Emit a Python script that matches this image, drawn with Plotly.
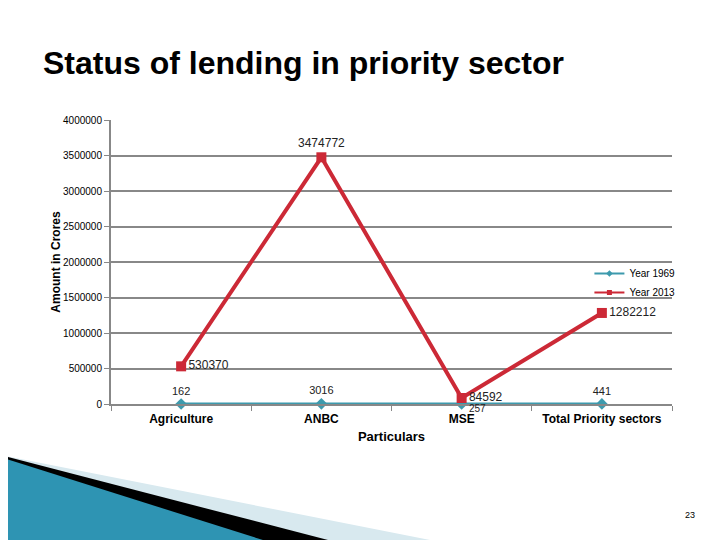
import plotly.graph_objects as go

# chart data
categories = ["Agriculture", "ANBC", "MSE", "Total Priority sectors"]
year_1969 = [162, 3016, 257, 441]
year_2013 = [530370, 3474772, 84592, 1282212]
y_ticks = [0, 500000, 1000000, 1500000, 2000000, 2500000, 3000000, 3500000, 4000000]

W, H = 720, 540
OFF = 8  # the page body margin shifts the figure by 8px
L, R, T, B = 111 - OFF, 720 - 672 + OFF, 120 - OFF, 540 - 404 + OFF
FONT = "Liberation Sans, Arial, sans-serif"
TEAL = "#3d9aad"
RED = "#cc2936"


def px(x, y):
    """pixel position in the window -> paper coords"""
    return (x - OFF - L) / (W - L - R), (H - B - (y - OFF)) / (H - T - B)


def poly(points):
    pts = [px(x, y) for x, y in points]
    return "M " + " L ".join(f"{a:.4f},{b:.4f}" for a, b in pts) + " Z"


fig = go.Figure()
fig.add_trace(go.Scatter(
    x=categories, y=year_1969, name="Year 1969", showlegend=False,
    mode="lines+markers+text",
    line=dict(color=TEAL, width=3),
    marker=dict(symbol="diamond", size=9, color=TEAL),
    text=[str(v) if i != 2 else "" for i, v in enumerate(year_1969)],
    textposition="top center",
    textfont=dict(family=FONT, size=11, color="#222"),
    cliponaxis=False,
))
fig.add_trace(go.Scatter(
    x=categories, y=year_2013, name="Year 2013", showlegend=False,
    mode="lines+markers+text",
    line=dict(color=RED, width=4),
    marker=dict(symbol="square", size=10, color=RED),
    text=[str(v) for v in year_2013],
    textposition=["middle right", "top center", "middle right", "middle right"],
    textfont=dict(family=FONT, size=12, color="#222"),
    cliponaxis=False,
))
# legend entries with small markers, like the original
for name, col, sym in [("Year 1969", TEAL, "diamond"), ("Year 2013", RED, "square")]:
    fig.add_trace(go.Scatter(
        x=[None], y=[None], name=name, mode="lines+markers",
        line=dict(color=col, width=2), marker=dict(symbol=sym, size=5, color=col),
    ))

# slide decoration, bottom-left swoosh
shapes = [
    dict(type="path", xref="paper", yref="paper", layer="below",
         path=poly([(0, 455), (430, 540), (0, 540)]),
         fillcolor="#d8e9ef", line=dict(width=0)),
    dict(type="path", xref="paper", yref="paper", layer="below",
         path=poly([(0, 455), (328, 540), (0, 540)]),
         fillcolor="#000000", line=dict(width=0)),
    dict(type="path", xref="paper", yref="paper", layer="below",
         path=poly([(0, 457), (263, 540), (0, 540)]),
         fillcolor="#2e94b3", line=dict(width=0)),
]

fig.update_layout(
    width=W, height=H,
    margin=dict(l=L, r=R, t=T, b=B),
    paper_bgcolor="white", plot_bgcolor="white",
    font=dict(family=FONT, color="#000"),
    title=dict(text="<b>Status of lending in priority sector</b>",
               x=(43 - OFF) / W, xref="container", xanchor="left",
               y=1 - (63 - OFF) / H, yref="container", yanchor="middle",
               font=dict(size=32, color="#000")),
    showlegend=True,
    legend=dict(x=1.015, xanchor="right", y=px(0, 259)[1], yanchor="top",
                bgcolor="rgba(0,0,0,0)", font=dict(size=10, color="#000"),
                itemwidth=30, tracegroupgap=0),
    shapes=shapes,
    annotations=[
        dict(text="23", xref="paper", yref="paper",
             x=px(697, 0)[0], y=px(0, 522)[1], showarrow=False,
             font=dict(size=9, color="#000")),
        dict(text=str(year_1969[2]), x=categories[2], y=year_1969[2],
             xref="x", yref="y", showarrow=False, xanchor="left", yanchor="top",
             xshift=5, yshift=3, font=dict(family=FONT, size=10, color="#222")),
    ],
)
fig.update_xaxes(
    type="category", range=[-0.5, 3.5],
    showline=True, linecolor="#888", linewidth=2,
    ticks="outside", tickson="boundaries", ticklen=5, tickcolor="#888",
    ticklabelstandoff=3,
    tickfont=dict(size=12, color="#000"),
    tickprefix="<b>", ticksuffix="</b>",
    title=dict(text="<b>Particulars</b>", font=dict(size=13), standoff=6),
    showgrid=False,
)
fig.update_yaxes(
    range=[0, 4000000], tickvals=y_ticks, ticktext=[str(v) for v in y_ticks],
    showline=True, linecolor="#888", linewidth=2,
    ticks="outside", ticklen=5, tickcolor="#888",
    showgrid=True, gridcolor="#888", gridwidth=2,
    zeroline=False,
    tickfont=dict(size=10, color="#000"),
    title=dict(text="<b>Amount in Crores</b>", font=dict(size=12), standoff=0),
)

fig.write_html("out.html")
